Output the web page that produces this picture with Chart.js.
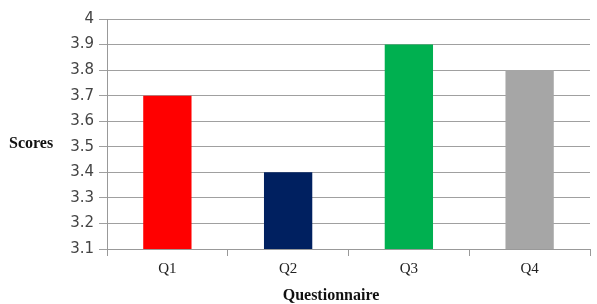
<!DOCTYPE html>
<html>
<head>
<meta charset="utf-8">
<script src="https://cdn.jsdelivr.net/npm/chart.js@4"></script>
<style>
  html, body { margin: 0; padding: 0; background: #fff; }
  #wrap { width: 597px; height: 304px; position: relative; }
</style>
</head>
<body>
<div id="wrap"><canvas id="grafico"></canvas></div>
<script>
// valeurs
const categories = ["Q1", "Q2", "Q3", "Q4"];
const scores = [3.7, 3.4, 3.9, 3.8];
const barColors = ["#ff0000", "#002060", "#00b050", "#a6a6a6"];
const yMin = 3.1;
const yMax = 4;
const yStep = 0.1;

// titres des axes dessinés à la main ("Scores" est horizontal)
const axisTitles = {
  id: "axisTitles",
  afterDraw(chart) {
    const ctx = chart.ctx;
    ctx.save();
    ctx.fillStyle = "#111";
    ctx.font = "bold 16px 'Liberation Serif', serif";
    ctx.textBaseline = "middle";
    ctx.textAlign = "left";
    ctx.fillText("Scores", 9, 144);
    ctx.textAlign = "center";
    ctx.fillText("Questionnaire", 331, 296);
    ctx.restore();
  }
};

new Chart(document.getElementById("grafico"), {
  type: "bar",
  data: {
    labels: categories,
    datasets: [{
      data: scores,
      backgroundColor: barColors,
      barPercentage: 0.4,
      categoryPercentage: 1
    }]
  },
  options: {
    responsive: true,
    maintainAspectRatio: false,
    animation: false,
    layout: { padding: { top: 19, right: 7, left: 0, bottom: 0 } },
    plugins: {
      legend: { display: false },
      tooltip: { enabled: false }
    },
    scales: {
      x: {
        offset: true,
        grid: {
          offset: true,
          drawOnChartArea: false,
          drawTicks: true,
          tickLength: 7,
          color: "#999"
        },
        border: { color: "#999" },
        ticks: {
          color: "#222",
          padding: 4,
          font: { family: "'Liberation Serif', serif", size: 15 }
        },
        afterFit(s) { s.height = 55; }
      },
      y: {
        min: yMin,
        max: yMax,
        grid: {
          color: "#a0a0a0",
          tickLength: 8
        },
        border: { color: "#999" },
        ticks: {
          stepSize: yStep,
          color: "#444",
          padding: 5,
          font: { family: "'DejaVu Sans', sans-serif", size: 15 },
          callback: v => Number(v.toFixed(1)).toString()
        },
        afterFit(s) { s.width = 107; }
      }
    }
  },
  plugins: [axisTitles]
});
</script>
</body>
</html>
